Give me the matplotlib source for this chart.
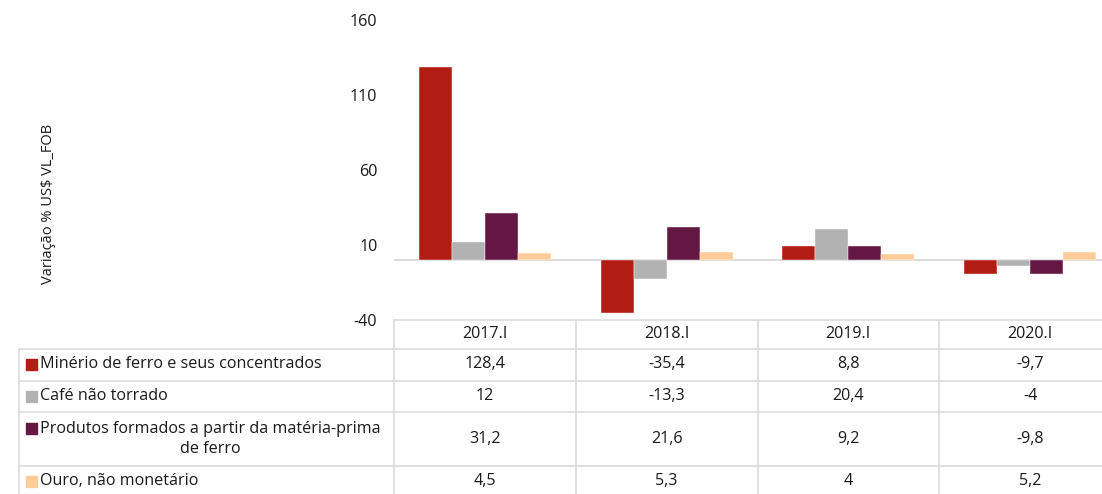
import matplotlib
matplotlib.use("Agg")
import matplotlib.pyplot as plt
import matplotlib.transforms as mtransforms
from matplotlib.patches import Rectangle
from matplotlib.lines import Line2D

plt.rcParams["font.family"] = ["Open Sans", "DejaVu Sans"]

# Data
periods = ["2017.I", "2018.I", "2019.I", "2020.I"]
series_names = [
    "Minério de ferro e seus concentrados",
    "Café não torrado",
    "Produtos formados a partir da matéria-prima\nde ferro",
    "Ouro, não monetário",
]
minerio = [128.4, -35.4, 8.8, -9.7]
cafe = [12, -13.3, 20.4, -4]
produtos = [31.2, 21.6, 9.2, -9.8]
ouro = [4.5, 5.3, 4, 5.2]
series_values = [minerio, cafe, produtos, ouro]
colors = ["#B11C13", "#B2B2B2", "#641743", "#FFCC99"]
yticks = [-40, 10, 60, 110, 160]
ylabel = "Variação % US$ VL_FOB"

W, H = 1102, 494
FS = 11.6
GRID = "#D9D9D9"
TXT = "#1A1A1A"


def fy(py):
    return 1 - py / H


def fx(px):
    return px / W


def fmt(v):
    return f"{v:g}".replace(".", ",")


fig = plt.figure(figsize=(W / 100, H / 100), dpi=100)
ax = fig.add_axes([fx(394), fy(319.5), fx(1121) - fx(394), fy(19.5) - fy(319.5)])

n = len(series_values)
bw = 1 / (n + 1.5)
xs = list(range(len(periods)))
for k, (vals, col) in enumerate(zip(series_values, colors)):
    pos = [x + (k - (n - 1) / 2) * bw for x in xs]
    ax.bar(pos, vals, width=bw, color=col, edgecolor="white", linewidth=0.3, zorder=2)

ax.axhline(0, color=GRID, lw=1.3, zorder=1)
ax.set_xlim(-0.5, len(periods) - 0.5)
ax.set_ylim(yticks[0], yticks[-1])
ax.set_yticks(yticks)
ax.set_yticklabels([str(t) for t in yticks], fontsize=FS, color=TXT)
ax.tick_params(axis="y", length=0, pad=12)
ax.set_xticks([])
for s in ax.spines.values():
    s.set_visible(False)

# Data table below the plot
blend = mtransforms.blended_transform_factory(ax.transData, fig.transFigure)
row_lines = [348.5, 380.5, 412, 466, 497]
row_centers = [364, 396, 439, 481]
header_y = 334
table_top = 319.5

fig.add_artist(Line2D([-0.5, len(periods) - 0.5], [fy(table_top)] * 2, transform=blend,
                      color=GRID, lw=1.1, clip_on=False))
for y in row_lines:
    fig.add_artist(Line2D([fx(19), fx(1121)], [fy(y)] * 2, transform=fig.transFigure,
                          color=GRID, lw=1.1, clip_on=False))
for xb in [i - 0.5 for i in range(len(periods) + 1)]:
    fig.add_artist(Line2D([xb, xb], [fy(table_top), fy(row_lines[-1])], transform=blend,
                          color=GRID, lw=1.1, clip_on=False))
fig.add_artist(Line2D([fx(19), fx(19)], [fy(row_lines[0]), fy(row_lines[-1])],
                      transform=fig.transFigure, color=GRID, lw=1.1, clip_on=False))

for i, p in enumerate(periods):
    fig.text(i, fy(header_y), p, transform=blend, ha="center", va="center",
             fontsize=FS, color=TXT)

for r, (name, vals, col, yc) in enumerate(zip(series_names, series_values, colors, row_centers)):
    for i, v in enumerate(vals):
        fig.text(i, fy(yc), fmt(v), transform=blend, ha="center", va="center",
                 fontsize=FS, color=TXT)
    key_y = yc - 11 if "\n" in name else yc
    fig.add_artist(Rectangle((fx(26), fy(key_y) - 5.5 / H), 11 / W, 11 / H,
                             transform=fig.transFigure, color=col, clip_on=False))
    fig.text(fx(40), fy(yc), name, ha="left", va="center", multialignment="center",
             fontsize=FS, color=TXT, linespacing=1.3)

fig.text(fx(49), fy(204), ylabel, rotation=90, ha="center", va="center",
         fontsize=10.5, color=TXT)

fig.savefig("out.png", dpi=100)
